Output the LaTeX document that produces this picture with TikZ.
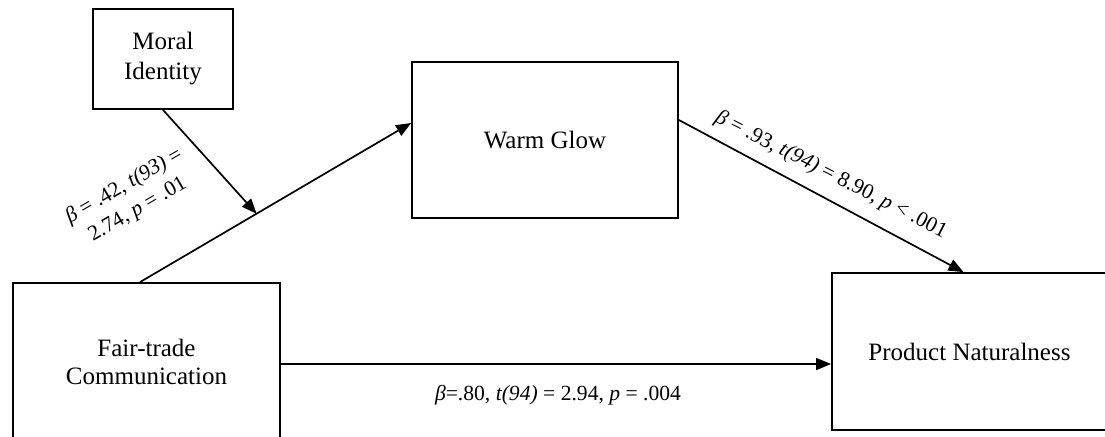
\documentclass[tikz,border=0pt]{standalone}
\usepackage{fontspec}
\setmainfont{Liberation Serif}
\usetikzlibrary{arrows.meta,calc}
\begin{document}
\begin{tikzpicture}[x=0.5pt,y=-0.5pt,
  box/.style={draw,line width=0.9pt,rectangle,inner sep=0pt,align=center,font=\fontsize{12.5}{15}\selectfont},
  conn/.style={line width=0.85pt,-{Triangle[length=7.5pt,width=6pt]}},
  lab/.style={font=\fontsize{10.8}{13.5}\selectfont,align=center,inner sep=0pt}]
\useasboundingbox (0,0) rectangle (1105,436);
\clip (0,0) rectangle (1105,436);
\node[box,minimum width=70pt,minimum height=50pt] (mi) at (163,59) {Moral\\Identity};
\node[box,minimum width=133pt,minimum height=78pt] (wg) at (545,140) {Warm Glow};
\node[box,minimum width=133.5pt,minimum height=78.5pt,font=\fontsize{12.5}{14}\selectfont] (ft) at (146.5,361.5) {Fair-trade\\Communication};
\node[box,minimum width=137.5pt,minimum height=78.5pt] (pn) at (969.5,351.5) {Product Naturalness};
\coordinate (fts) at ([xshift=-3.25pt]ft.north);
\coordinate (wgin) at ([yshift=8.5pt]wg.west);
\draw[conn] (fts) -- (wgin);
\coordinate (mod) at ($(fts)!0.43!(wgin)$);
\draw[conn] (mi.south) -- (mod);
\draw[conn] ([yshift=10pt]wg.east) -- ([xshift=-3pt]pn.north);
\draw[conn] ([yshift=-1.25pt]ft.east) -- ([yshift=-1.25pt]ft.east -| pn.west);
\node[lab,rotate=30] (l1) at (131,198) {\textit{β} = .42, \textit{t(93)} =\\2.74, \textit{p} = .01};
\node[lab,rotate=-27] (l2) at (831,175) {\textit{β} = .93, \textit{t(94)} = 8.90, \textit{p} < .001};
\node[lab] (l3) at (558,395) {\textit{β}=.80, \textit{t(94)} = 2.94, \textit{p} = .004};
\end{tikzpicture}
\end{document}
